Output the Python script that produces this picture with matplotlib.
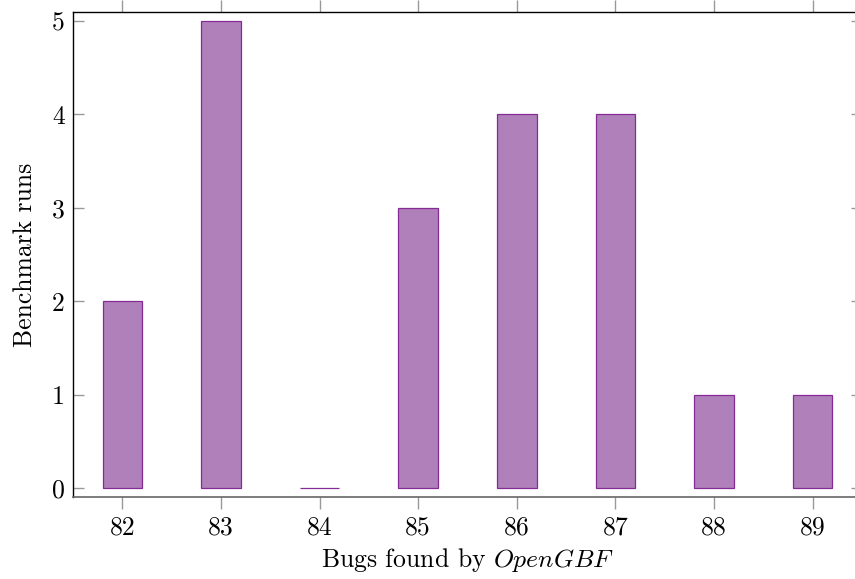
import numpy as np
import matplotlib
matplotlib.use('Agg')
from matplotlib import pyplot as plt

# Data
bugs_found = [82, 83, 84, 85, 86, 87, 88, 89]
benchmark_runs = [2, 5, 0, 3, 4, 4, 1, 1]
y_ticks = [0, 1, 2, 3, 4, 5]

plt.rcParams['font.family'] = 'serif'
plt.rcParams['font.serif'] = ['cmr10', 'DejaVu Serif']
plt.rcParams['mathtext.fontset'] = 'cm'
plt.rcParams['axes.formatter.use_mathtext'] = True

fs = 18.5

fig = plt.figure(figsize=(8.55, 5.79), dpi=100)
# axes box runs a little past the right edge, like the cropped reference
ax = fig.add_axes([73 / 855, 1 - 497 / 579, 789 / 855, 485 / 579])

ax.bar(bugs_found, benchmark_runs, width=0.4, color='#b080ba',
       edgecolor='#862a96', linewidth=0.9)

ax.set_xlim(81.5, 89.5)
ax.set_ylim(-0.096, 5.096)
ax.set_xticks(bugs_found)
ax.set_xticklabels([str(b) for b in bugs_found])
ax.set_yticks(y_ticks)
ax.set_yticklabels([str(v) for v in y_ticks])

ax.tick_params(axis='x', which='both', direction='out', length=8.5, width=1,
               color='#999999', top=True, labelsize=fs, pad=5)
ax.tick_params(axis='y', which='both', direction='in', length=8, width=1,
               color='#999999', right=True, labelsize=fs, pad=6)

for side in ['left', 'top']:
    ax.spines[side].set_color('black')
    ax.spines[side].set_linewidth(1.0)
ax.spines['right'].set_visible(False)
ax.spines['bottom'].set_color('#666666')
ax.spines['bottom'].set_linewidth(1.2)

ax.set_xlabel('Bugs found by $\\mathit{OpenGBF}$', fontsize=fs, labelpad=5)
ax.set_ylabel('Benchmark runs', fontsize=fs, labelpad=11)

plt.savefig('out.png', dpi=100)
